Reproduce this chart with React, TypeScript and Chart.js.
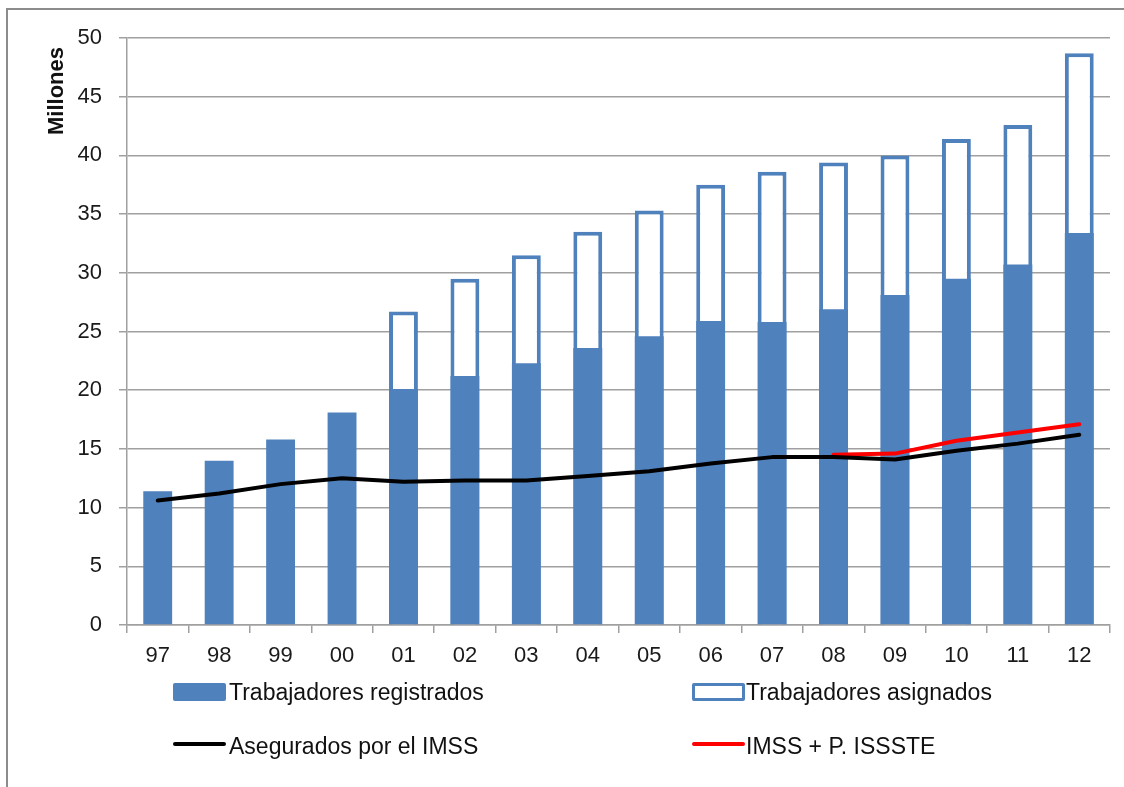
import React, { useEffect, useRef } from 'react';
import { Chart, registerables } from 'chart.js';
Chart.register(...registerables);

const years = ['97', '98', '99', '00', '01', '02', '03', '04', '05', '06', '07', '08', '09', '10', '11', '12'];
const registrados = [11.4, 14.0, 15.8, 18.1, 20.1, 21.2, 22.3, 23.6, 24.6, 25.9, 25.8, 26.9, 28.1, 29.5, 30.7, 33.4];
const asignados = [null, null, null, null, 26.7, 29.5, 31.5, 33.5, 35.3, 37.5, 38.6, 39.4, 40.0, 41.4, 42.6, 48.7];
const aseguradosImss = [10.6, 11.2, 12.0, 12.5, 12.2, 12.3, 12.3, 12.7, 13.1, 13.75, 14.3, 14.3, 14.1, 14.85, 15.45, 16.2];
const imssIssste = [null, null, null, null, null, null, null, null, null, null, null, 14.5, 14.6, 15.7, 16.4, 17.1];
const yMin = 0;
const yMax = 50;
const yStep = 5;

const FONT = "'Liberation Sans', Arial, sans-serif";
const BLUE = '#4f81bd';
const GRID = '#a0a0a0';

export default function App() {
  const ref = useRef<HTMLCanvasElement | null>(null);

  useEffect(() => {
    if (!ref.current) return;
    const chart = new Chart(ref.current, {
      type: 'bar',
      data: {
        labels: years,
        datasets: [
          {
            type: 'line',
            label: 'Asegurados por el IMSS',
            data: aseguradosImss,
            borderColor: '#000000',
            borderWidth: 4,
            pointRadius: 0,
            borderCapStyle: 'round',
            borderJoinStyle: 'round',
            tension: 0,
            fill: false,
          } as any,
          {
            type: 'line',
            label: 'IMSS + P. ISSSTE',
            data: imssIssste,
            borderColor: '#ff0000',
            borderWidth: 4,
            pointRadius: 0,
            borderCapStyle: 'round',
            borderJoinStyle: 'round',
            tension: 0,
            fill: false,
            spanGaps: false,
          } as any,
          {
            type: 'bar',
            label: 'Trabajadores registrados',
            data: registrados,
            backgroundColor: BLUE,
            borderWidth: 0,
            barPercentage: 0.47,
            categoryPercentage: 1,
          },
          {
            type: 'bar',
            label: 'Trabajadores asignados',
            data: asignados,
            backgroundColor: '#ffffff',
            borderColor: BLUE,
            borderWidth: 4,
            borderSkipped: 'start',
            barPercentage: 0.47,
            categoryPercentage: 1,
          } as any,
        ],
      },
      options: {
        animation: false,
        responsive: false,
        maintainAspectRatio: false,
        layout: { padding: { left: 0, top: 38, right: 14, bottom: 0 } },
        plugins: { legend: { display: false }, tooltip: { enabled: false } },
        scales: {
          x: {
            stacked: true,
            offset: true,
            grid: { offset: true, drawOnChartArea: false, drawTicks: true, tickLength: 8, color: GRID, lineWidth: 1.5 },
            border: { color: GRID, width: 1.5 },
            ticks: { font: { family: FONT, size: 22 }, color: '#1a1a1a', padding: 10 },
            afterFit: (s: any) => { s.height = 162; },
          },
          y: {
            stacked: false,
            min: yMin,
            max: yMax,
            grid: { color: GRID, tickLength: 8, lineWidth: 1.5 },
            border: { color: GRID, width: 1.5 },
            ticks: { stepSize: yStep, font: { family: FONT, size: 22 }, color: '#1a1a1a', padding: 17 },
            afterFit: (s: any) => { s.width = 127; },
          },
        },
      },
    });
    return () => chart.destroy();
  }, []);

  const textStyle: React.CSSProperties = {
    position: 'absolute',
    fontFamily: FONT,
    fontSize: 23,
    lineHeight: '26px',
    color: '#111',
    whiteSpace: 'nowrap',
  };

  return (
    <div style={{ position: 'fixed', left: 0, top: 0, width: 1124, height: 787, overflow: 'hidden', background: '#fff' }}>
      <div style={{ position: 'absolute', left: 6, top: 8, width: 1300, height: 1000, border: '2px solid #8c8c8c' }} />
      <canvas ref={ref} width={1124} height={787} style={{ position: 'absolute', left: 0, top: 0, width: 1124, height: 787 }} />
      <div style={{ ...textStyle, fontSize: 22, fontWeight: 'bold', left: 56, top: 91, transform: 'translate(-50%, -50%) rotate(-90deg)' }}>Millones</div>

      <div style={{ position: 'absolute', left: 173, top: 683, width: 53, height: 18, background: BLUE, borderRadius: 2 }} />
      <div style={{ ...textStyle, left: 229, top: 679 }}>Trabajadores registrados</div>

      <div style={{ position: 'absolute', left: 692, top: 683, width: 47, height: 12, background: '#fff', border: '3px solid ' + BLUE, borderRadius: 2 }} />
      <div style={{ ...textStyle, left: 746, top: 679 }}>Trabajadores asignados</div>

      <div style={{ position: 'absolute', left: 173, top: 742, width: 53, height: 4, background: '#000', borderRadius: 2 }} />
      <div style={{ ...textStyle, left: 229, top: 733 }}>Asegurados por el IMSS</div>

      <div style={{ position: 'absolute', left: 692, top: 742, width: 53, height: 4, background: '#ff0000', borderRadius: 2 }} />
      <div style={{ ...textStyle, left: 746, top: 733 }}>IMSS + P. ISSSTE</div>
    </div>
  );
}
